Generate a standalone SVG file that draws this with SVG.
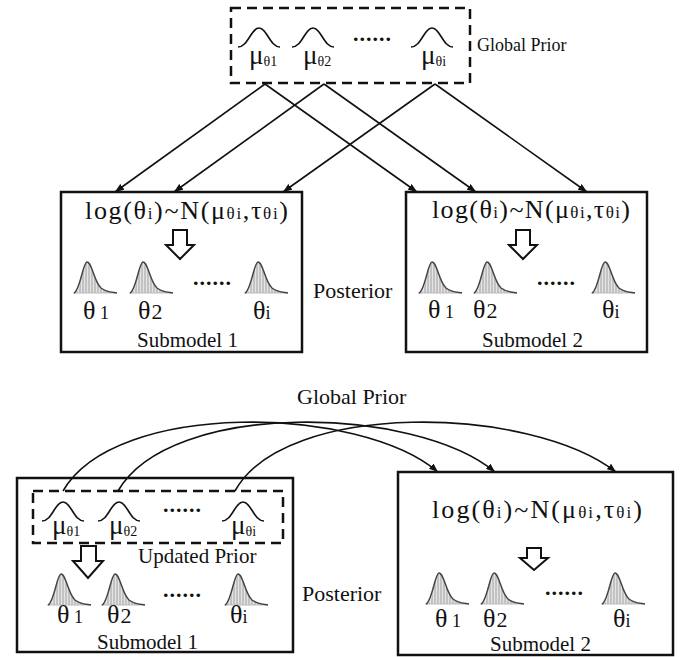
<svg xmlns="http://www.w3.org/2000/svg" width="681" height="657" viewBox="0 0 681 657">
<style>
  .t { font-family: "Liberation Serif", "Times New Roman", serif; fill: #111; }
  .box { fill: none; stroke: #111; stroke-width: 2.5; }
  .dash { fill: none; stroke: #111; stroke-width: 2.5; stroke-dasharray: 10 6; }
  .conn { fill: none; stroke: #111; stroke-width: 1.6; }
  .harrow { fill: #fff; stroke: #111; stroke-width: 2; }
  .lbl { font-size: 21px; }
  .f { font-size: 26px; }
  .fs { font-size: 17px; }
  .mu { font-size: 27px; }
  .mus { font-size: 14px; }
  .th { font-size: 26px; }
  .ths { font-size: 18px; }
  .th2 { font-size: 22px; }
  .dots { font-size: 22px; font-weight: bold; letter-spacing: 1px; }
</style>
<defs>
  <marker id="ah" markerUnits="userSpaceOnUse" markerWidth="9" markerHeight="7" refX="9" refY="3.5" orient="auto">
    <path d="M0,0 L9,3.5 L0,7 z" fill="#111"/>
  </marker>
  <pattern id="hatch" patternUnits="userSpaceOnUse" width="3" height="4">
    <rect width="3" height="4" fill="#e4e4e4"/>
    <line x1="1" y1="0" x2="1" y2="4" stroke="#9a9a9a" stroke-width="0.9"/>
  </pattern>
  <symbol id="prior" overflow="visible">
    <path d="M0,19 C10,19 13,0 21,0 C29,0 32,19 42,19" fill="none" stroke="#111" stroke-width="1.6"/>
  </symbol>
  <symbol id="post" overflow="visible">
    <path d="M3,33 C8,30 10,2 14,2 C19,2 21,22 28,28 C33,32 38,32 44,33 Z" fill="url(#hatch)"/>
    <line x1="0" y1="33" x2="44" y2="33" stroke="#bbb" stroke-width="1.2"/>
    <path d="M1,33 C7,31 10,2 14,2 C19,2 21,22 28,28 C33,32 38,32 44,33" fill="none" stroke="#444" stroke-width="1.5"/>
  </symbol>
</defs>

<g id="connectors">
  <line class="conn" x1="265" y1="84" x2="115" y2="192" marker-end="url(#ah)"/>
  <line class="conn" x1="265" y1="84" x2="417" y2="192" marker-end="url(#ah)"/>
  <line class="conn" x1="324" y1="84" x2="174" y2="192" marker-end="url(#ah)"/>
  <line class="conn" x1="324" y1="84" x2="476" y2="192" marker-end="url(#ah)"/>
  <line class="conn" x1="435" y1="84" x2="283" y2="192" marker-end="url(#ah)"/>
  <line class="conn" x1="435" y1="84" x2="587" y2="192" marker-end="url(#ah)"/>
  <path class="conn" d="M63,491 C115,400 360,405 438,472" marker-end="url(#ah)"/>
  <path class="conn" d="M118,491 C170,400 415,405 495,472" marker-end="url(#ah)"/>
  <path class="conn" d="M235,491 C285,400 530,405 616,472" marker-end="url(#ah)"/>
</g>

<g id="global-prior-top">
  <rect class="dash" x="231" y="8" width="239" height="75"/>
  <use href="#prior" x="238" y="28"/>
  <use href="#prior" x="292" y="28"/>
  <use href="#prior" x="411" y="28"/>
  <text class="t mu" x="249" y="64">μ<tspan class="mus" dy="2">θ1</tspan></text>
  <text class="t mu" x="303" y="64">μ<tspan class="mus" dy="2">θ2</tspan></text>
  <text class="t mu" x="421" y="64">μ<tspan class="mus" dy="2">θi</tspan></text>
  <text class="t dots" x="353" y="41">......</text>
  <text class="t" x="477" y="51" font-size="18">Global Prior</text>
</g>

<g id="submodel1-top">
  <rect class="box" x="61" y="192" width="241" height="160"/>
  <text class="t f" x="85" y="219" textLength="203" lengthAdjust="spacing">log(θ<tspan class="fs">i</tspan>)~N(μ<tspan class="fs">θi</tspan>,τ<tspan class="fs">θi</tspan>)</text>
  <polygon class="harrow" points="173,230 187,230 187,245 194,245 180,259 166,245 173,245"/>
  <use href="#post" x="73" y="260"/>
  <use href="#post" x="129" y="260"/>
  <use href="#post" x="244" y="260"/>
  <text class="t dots" x="193" y="285">......</text>
  <text class="t th" x="83" y="319">θ<tspan class="ths"> 1</tspan></text>
  <text class="t th" x="138" y="319">θ<tspan class="th2" dx="1">2</tspan></text>
  <text class="t th" x="253" y="319">θ<tspan class="ths">i</tspan></text>
  <text class="t lbl" x="137" y="347">Submodel 1</text>
</g>

<text class="t" x="313" y="298" font-size="22">Posterior</text>

<g id="submodel2-top">
  <rect class="box" x="406" y="192" width="241" height="160"/>
  <text class="t f" x="432" y="218" textLength="198" lengthAdjust="spacing">log(θ<tspan class="fs">i</tspan>)~N(μ<tspan class="fs">θi</tspan>,τ<tspan class="fs">θi</tspan>)</text>
  <polygon class="harrow" points="516,230 530,230 530,245 537,245 523,259 509,245 516,245"/>
  <use href="#post" x="418" y="260"/>
  <use href="#post" x="473" y="260"/>
  <use href="#post" x="591" y="260"/>
  <text class="t dots" x="537" y="285">......</text>
  <text class="t th" x="428" y="318">θ<tspan class="ths"> 1</tspan></text>
  <text class="t th" x="473" y="318">θ<tspan class="th2" dx="1">2</tspan></text>
  <text class="t th" x="602" y="318">θ<tspan class="ths">i</tspan></text>
  <text class="t lbl" x="482" y="347">Submodel 2</text>
</g>

<text class="t" x="297" y="404" font-size="22">Global Prior</text>

<g id="submodel1-bottom">
  <rect class="box" x="17" y="478" width="276" height="174"/>
  <rect class="dash" x="33" y="491" width="250" height="52"/>
  <use href="#prior" x="42" y="502"/>
  <use href="#prior" x="98" y="502"/>
  <use href="#prior" x="222" y="502"/>
  <text class="t mu" x="52" y="534">μ<tspan class="mus" dy="2">θ1</tspan></text>
  <text class="t mu" x="109" y="534">μ<tspan class="mus" dy="2">θ2</tspan></text>
  <text class="t mu" x="231" y="534">μ<tspan class="mus" dy="2">θi</tspan></text>
  <text class="t dots" x="163" y="512">......</text>
  <polygon class="harrow" points="81,546 96,546 96,561 103,561 88,578 73,561 81,561"/>
  <text class="t" x="138" y="563" font-size="21">Updated Prior</text>
  <use href="#post" x="47" y="572"/>
  <use href="#post" x="101" y="572"/>
  <use href="#post" x="224" y="572"/>
  <text class="t dots" x="163" y="597">......</text>
  <text class="t th" x="57" y="623">θ<tspan class="ths"> 1</tspan></text>
  <text class="t th" x="107" y="623">θ<tspan class="th2" dx="1">2</tspan></text>
  <text class="t th" x="230" y="623">θ<tspan class="ths">i</tspan></text>
  <text class="t lbl" x="97" y="649">Submodel 1</text>
</g>

<text class="t" x="302" y="601" font-size="22">Posterior</text>

<g id="submodel2-bottom">
  <rect class="box" x="398" y="472" width="275" height="183"/>
  <text class="t f" x="432" y="518" textLength="210" lengthAdjust="spacing">log(θ<tspan class="fs">i</tspan>)~N(μ<tspan class="fs">θi</tspan>,τ<tspan class="fs">θi</tspan>)</text>
  <polygon class="harrow" points="527,548 541,548 541,558 548,558 534,570 520,558 527,558"/>
  <use href="#post" x="425" y="571"/>
  <use href="#post" x="480" y="571"/>
  <use href="#post" x="601" y="571"/>
  <text class="t dots" x="545" y="595">......</text>
  <text class="t th" x="435" y="627">θ<tspan class="ths"> 1</tspan></text>
  <text class="t th" x="483" y="627">θ<tspan class="th2" dx="1">2</tspan></text>
  <text class="t th" x="613" y="627">θ<tspan class="ths">i</tspan></text>
  <text class="t lbl" x="490" y="651">Submodel 2</text>
</g>
</svg>
